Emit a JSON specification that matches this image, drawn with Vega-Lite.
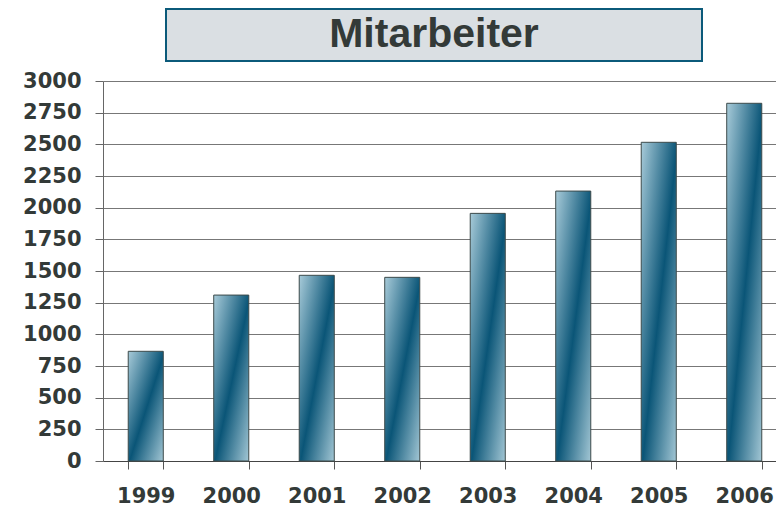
{
  "$schema": "https://vega.github.io/schema/vega-lite/v6.json",
  "padding": {"left": 22, "top": 8, "right": 0, "bottom": 0},
  "background": "white",
  "config": {"view": {"stroke": null}},
  "spacing": 8,
  "vconcat": [
    {
      "spacing": 0,
      "hconcat": [
        {
          "width": 62,
          "height": 52,
          "data": {"values": [{"t": ""}]},
          "mark": {"type": "text"},
          "encoding": {"text": {"field": "t"}}
        },
        {
          "width": 536,
          "height": 52,
          "view": {"fill": "#dadfe3", "stroke": "#0b5a7a", "strokeWidth": 2},
          "data": {"values": [{"t": "Mitarbeiter"}]},
          "mark": {"type": "text", "font": "Liberation Sans", "fontWeight": "bold", "fontSize": 41, "color": "#333a38", "baseline": "middle", "align": "center"},
          "encoding": {"text": {"field": "t"}}
        }
      ]
    },
    {
      "width": 684,
      "height": 380,
      "data": {
        "values": [
          {"Jahr": "1999", "Mitarbeiter": 866},
          {"Jahr": "2000", "Mitarbeiter": 1310},
          {"Jahr": "2001", "Mitarbeiter": 1466},
          {"Jahr": "2002", "Mitarbeiter": 1450},
          {"Jahr": "2003", "Mitarbeiter": 1955},
          {"Jahr": "2004", "Mitarbeiter": 2131},
          {"Jahr": "2005", "Mitarbeiter": 2516},
          {"Jahr": "2006", "Mitarbeiter": 2824}
        ]
      },
      "mark": {
        "type": "bar",
        "color": {
          "gradient": "linear",
          "x1": 0, "y1": 0, "x2": 1, "y2": 1,
          "stops": [
            {"offset": 0, "color": "#a8cbd9"},
            {"offset": 0.52, "color": "#0a5577"},
            {"offset": 1, "color": "#a2c6d4"}
          ]
        },
        "stroke": "#3c4a4a",
        "strokeWidth": 1
      },
      "encoding": {
        "x": {
          "field": "Jahr",
          "type": "nominal",
          "scale": {"paddingInner": 0.59, "paddingOuter": 0.295},
          "axis": {
            "title": null,
            "labelAngle": 0,
            "labelFont": "DejaVu Sans",
            "labelFontWeight": "bold",
            "labelFontSize": 21,
            "labelColor": "#333a38",
            "labelPadding": 16,
            "tickSize": 8,
            "tickColor": "#555555",
            "domainColor": "#444444",
            "tickBand": "extent",
            "grid": false
          }
        },
        "y": {
          "field": "Mitarbeiter",
          "type": "quantitative",
          "scale": {"domain": [0, 3000]},
          "axis": {
            "title": null,
            "format": "d",
            "values": [0, 250, 500, 750, 1000, 1250, 1500, 1750, 2000, 2250, 2500, 2750, 3000],
            "labelFont": "DejaVu Sans",
            "labelFontWeight": "bold",
            "labelFontSize": 21,
            "labelColor": "#333a38",
            "labelPadding": 14,
            "tickSize": 8,
            "tickColor": "#666666",
            "domainColor": "#666666",
            "gridColor": "#777777",
            "gridWidth": 1
          }
        }
      }
    }
  ]
}
